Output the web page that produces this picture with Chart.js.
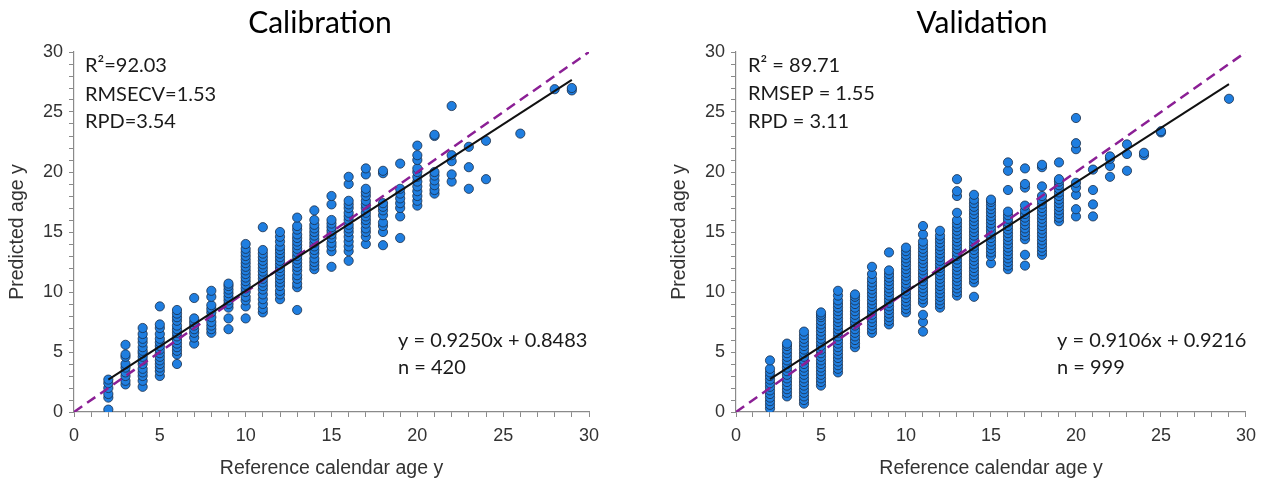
<!DOCTYPE html>
<html>
<head>
<meta charset="utf-8">
<script src="https://cdn.jsdelivr.net/npm/chart.js@4/dist/chart.umd.min.js"></script>
<style>
  html, body { margin: 0; padding: 0; background: #fff; }
  #wrap { position: relative; width: 1264px; height: 483px; }
  canvas { position: absolute; top: 0; }
</style>
</head>
<body>
<div id="wrap">
  <canvas id="cal" width="632" height="483" style="left:0px"></canvas>
  <canvas id="val" width="632" height="483" style="left:632px"></canvas>
</div>
<script>
// ---------- DATA ----------
const axisTicks = [0, 5, 10, 15, 20, 25, 30];

// Calibration: reference age (x) and predicted ages in each column
const calAges = [2,3,4,5,6,7,8,9,10,11,12,13,14,15,16,17,18,19,20,21,22,23,24,26,28,29];
const calPred = [
  [0.2,1.2,1.5,2.0,2.4,2.7],
  [2.3,2.6,3.0,3.3,3.7,4.0,4.6,4.8,5.6],
  [2.1,2.6,3.0,3.3,3.6,4.0,4.3,4.6,4.9,5.1,5.4,5.8,6.1,6.5,7.0],
  [3.0,3.4,3.7,4.0,4.3,4.6,4.9,5.2,5.5,5.8,6.1,6.5,7.0,7.3,8.8],
  [4.0,4.8,5.1,5.4,5.7,6.0,6.3,6.6,6.9,7.2,7.6,7.9,8.2,8.5],
  [5.7,6.2,6.6,6.9,7.2,7.5,7.8,9.5],
  [6.6,6.9,7.2,7.5,7.9,8.3,8.6,8.9,9.6,10.1],
  [6.9,7.8,8.7,9.0,9.3,9.6,9.9,10.2,10.5,10.7],
  [7.8,8.8,9.3,9.6,10.0,10.3,10.6,10.9,11.2,11.5,11.8,12.1,12.4,12.7,13.0,13.3,13.6,14.0],
  [8.3,8.6,9.0,9.4,9.8,10.2,10.5,10.8,11.1,11.4,11.7,12.0,12.3,12.6,12.9,13.2,13.5,15.4],
  [9.4,9.8,10.1,10.5,10.8,11.1,11.4,11.7,12.0,12.3,12.6,12.9,13.2,13.5,13.8,14.2,14.6,15.0],
  [8.5,10.4,10.7,11.1,11.4,11.8,12.1,12.4,12.7,13.0,13.3,13.6,13.9,14.2,14.5,14.8,15.2,15.5,16.2],
  [11.9,12.2,12.5,12.8,13.2,13.5,13.8,14.1,14.4,14.7,15.0,15.3,15.6,16.0,16.8],
  [12.1,13.4,13.8,14.1,14.5,14.8,15.1,15.4,15.7,16.0,17.3,18.0],
  [12.6,13.4,13.8,14.2,14.6,15.0,15.3,15.6,16.0,16.3,16.6,17.0,17.3,17.6,19.0,19.6],
  [14.0,14.6,15.0,15.3,15.7,16.0,16.3,16.6,17.0,17.3,17.6,18.0,18.3,18.6,19.8,20.3],
  [13.9,15.0,15.5,15.8,16.4,16.8,17.1,17.4,19.9,20.1],
  [14.5,16.3,17.0,17.4,17.8,18.2,18.6,20.7],
  [17.2,17.6,18.0,18.4,18.8,19.2,19.6,20.0,20.3,21.0,21.4,22.2],
  [18.2,18.5,18.9,19.3,19.7,20.0,23.0,23.1],
  [19.2,19.8,20.9,21.4,25.5],
  [18.6,20.4,22.1],
  [19.4,22.6],
  [23.2],
  [26.9],
  [26.8,27.0]
];

// Validation: reference age (x) and predicted ages in each column
const valAges = [2,3,4,5,6,7,8,9,10,11,12,13,14,15,16,17,18,19,20,21,22,23,24,25,29];
const valPred = [
  [0.3,0.6,0.9,1.2,1.5,1.8,2.1,2.4,2.7,3.0,3.3,3.6,4.3],
  [1.3,1.6,1.9,2.2,2.5,2.8,3.1,3.4,3.7,4.0,4.3,4.6,4.9,5.2,5.5,5.7],
  [0.7,1.0,1.3,1.6,1.9,2.2,2.5,2.8,3.1,3.4,3.7,4.0,4.3,4.6,4.9,5.2,5.5,5.8,6.1,6.4,6.7],
  [2.2,2.5,2.8,3.1,3.4,3.7,4.0,4.3,4.6,4.9,5.2,5.5,5.8,6.1,6.4,6.7,7.0,7.3,7.6,7.9,8.1,8.3],
  [3.3,3.6,3.9,4.2,4.5,4.8,5.1,5.4,5.7,6.0,6.3,6.6,6.9,7.2,7.5,7.8,8.1,8.4,8.7,9.0,9.3,9.7,10.1],
  [5.4,5.7,6.0,6.3,6.6,6.9,7.2,7.5,7.8,8.1,8.4,8.7,9.0,9.3,9.6,9.8],
  [6.6,6.9,7.2,7.5,7.8,8.1,8.4,8.7,9.0,9.3,9.6,9.9,10.2,10.5,10.8,11.1,11.5,12.1],
  [7.3,7.6,7.9,8.2,8.5,8.8,9.1,9.4,9.7,10.0,10.3,10.6,10.9,11.2,11.5,11.8,13.3],
  [8.3,8.6,8.9,9.2,9.5,9.8,10.1,10.4,10.7,11.0,11.3,11.6,11.9,12.2,12.5,12.8,13.1,13.4,13.7],
  [6.7,7.5,8.1,9.1,9.4,9.7,10.0,10.3,10.6,10.9,11.2,11.5,11.8,12.1,12.4,12.7,13.0,13.3,13.6,13.9,14.2,14.8,15.5],
  [8.7,9.0,9.3,9.6,9.9,10.2,10.5,10.8,11.1,11.4,11.7,12.0,12.3,12.6,12.9,13.2,13.5,13.8,14.1,14.4,14.7,15.1],
  [9.7,10.0,10.3,10.6,10.9,11.2,11.5,11.8,12.1,12.4,12.7,13.0,13.3,13.6,13.9,14.2,14.5,14.8,15.1,15.4,15.7,16.0,16.6,18.0,18.4,19.4],
  [9.6,10.8,11.1,11.4,11.7,12.0,12.3,12.6,12.9,13.2,13.5,13.8,14.1,14.4,14.7,15.0,15.3,15.6,15.9,16.2,16.5,16.8,17.1,17.4,17.7,18.1],
  [12.4,13.0,13.3,13.6,13.9,14.2,14.5,14.8,15.1,15.4,15.7,16.0,16.3,16.6,16.9,17.2,17.5,17.7],
  [11.9,12.2,12.5,12.8,13.1,13.4,13.7,14.0,14.3,14.6,14.9,15.2,15.5,15.8,16.1,16.4,16.7,18.5,20.1,20.8],
  [12.2,13.1,14.4,14.7,15.0,15.3,15.6,15.9,16.2,16.5,16.8,17.2,18.7,19.0,20.3],
  [13.1,13.4,13.7,14.0,14.3,14.6,14.9,15.2,15.5,15.8,16.1,16.4,16.7,17.0,17.3,17.6,18.0,18.8,20.4,20.6],
  [15.9,16.2,16.5,16.8,17.1,17.4,17.7,18.0,18.3,18.6,18.9,19.2,19.4,20.8],
  [16.3,16.9,18.1,18.7,19.1,21.9,22.4,24.5],
  [16.3,17.3,18.5,20.2],
  [19.6,20.5,21.1,21.3],
  [20.1,21.5,22.3],
  [21.4,21.6],
  [23.3,23.4],
  [26.1]
];

// Fitted regression lines (slope, intercept) and 1:1 line range
const calFit = [0.9250, 0.8483];
const valFit = [0.9106, 0.9216];
const identityRange = [0, 30];

// ---------- HELPERS ----------
function toPoints(ages, preds) {
  const pts = [];
  ages.forEach((a, i) => preds[i].forEach(p => pts.push({x: a, y: p})));
  return pts;
}
function fitLine(ages, fit) {
  const x0 = Math.min(...ages), x1 = Math.max(...ages);
  return [x0, x1].map(x => ({x: x, y: fit[0] * x + fit[1]}));
}

const textPlugin = {
  id: 'panelText',
  afterDraw(chart, args, opts) {
    const ctx = chart.ctx;
    ctx.save();
    ctx.textBaseline = 'middle';
    ctx.fillStyle = '#000';
    ctx.font = '30px Lato, "Open Sans", sans-serif';
    ctx.textAlign = 'center';
    ctx.fillText(opts.title, opts.titleX, 23);
    ctx.fillStyle = '#1a1a1a';
    ctx.font = '20px Lato, "Open Sans", sans-serif';
    ctx.textAlign = 'left';
    opts.topLines.forEach((t, i) => ctx.fillText(t, opts.topX, opts.topY[i]));
    opts.botLines.forEach((t, i) => ctx.fillText(t, opts.botX, opts.botY[i]));
    ctx.restore();
  }
};

function makeChart(id, ages, preds, fit, text, padL, padR) {
  const tickColor = '#333';
  const lineGray = '#8a8a8a';
  const tickFont = {family: '"Liberation Sans", Arial, sans-serif', size: 18};
  const titleFont = {family: '"Liberation Sans", Arial, sans-serif', size: 19.5};
  const axis = (isX) => ({
    type: 'linear',
    min: identityRange[0],
    max: identityRange[1],
    afterFit(scale) { if (isX) scale.height = 71; else scale.width = 74; },
    afterBuildTicks(scale) {
      const t = [];
      for (let v = identityRange[0]; v <= identityRange[1]; v++) t.push({value: v});
      scale.ticks = t;
    },
    ticks: {
      autoSkip: false,
      maxRotation: 0,
      color: tickColor,
      font: tickFont,
      padding: isX ? 8 : 6,
      callback: (v) => axisTicks.includes(v) ? String(v) : ''
    },
    grid: { drawOnChartArea: false, drawTicks: true, tickLength: 5, color: lineGray, lineWidth: 1 },
    border: { display: true, color: lineGray, width: 1.2 },
    title: {
      display: true,
      text: isX ? 'Reference calendar age y' : 'Predicted age y',
      color: '#333',
      font: titleFont,
      padding: isX ? {top: 0, bottom: 3} : {top: 6, bottom: 0}
    }
  });

  return new Chart(document.getElementById(id), {
    type: 'scatter',
    data: {
      datasets: [
        {
          type: 'line',
          data: fitLine(ages, fit),
          borderColor: '#111',
          borderWidth: 2,
          pointRadius: 0,
          fill: false,
          order: 1
        },
        {
          type: 'line',
          data: identityRange.map(v => ({x: v, y: v})),
          borderColor: '#8B1F95',
          borderWidth: 2.5,
          borderDash: [10, 6],
          pointRadius: 0,
          fill: false,
          order: 2
        },
        {
          data: toPoints(ages, preds),
          backgroundColor: '#1f7ee0',
          borderColor: '#1b2d47',
          borderWidth: 0.8,
          pointRadius: 4.6,
          order: 3
        }
      ]
    },
    options: {
      responsive: false,
      animation: false,
      events: [],
      layout: { padding: { left: padL, right: padR, top: 52, bottom: 0 } },
      plugins: {
        legend: { display: false },
        tooltip: { enabled: false },
        panelText: text
      },
      scales: { x: axis(true), y: axis(false) }
    },
    plugins: [textPlugin]
  });
}

makeChart('cal', calAges, calPred, calFit, {
  title: 'Calibration', titleX: 320,
  topLines: ['R\u00B2=92.03', 'RMSECV=1.53', 'RPD=3.54'], topX: 85, topY: [66, 95, 122],
  botLines: ['y = 0.9250x + 0.8483', 'n = 420'], botX: 398, botY: [341, 368]
}, 0, 43);
makeChart('val', valAges, valPred, valFit, {
  title: 'Validation', titleX: 350,
  topLines: ['R\u00B2 = 89.71', 'RMSEP = 1.55', 'RPD = 3.11'], topX: 116, topY: [66, 94, 122],
  botLines: ['y = 0.9106x + 0.9216', 'n = 999'], botX: 425, botY: [341, 368]
}, 30, 11);
</script>
</body>
</html>
